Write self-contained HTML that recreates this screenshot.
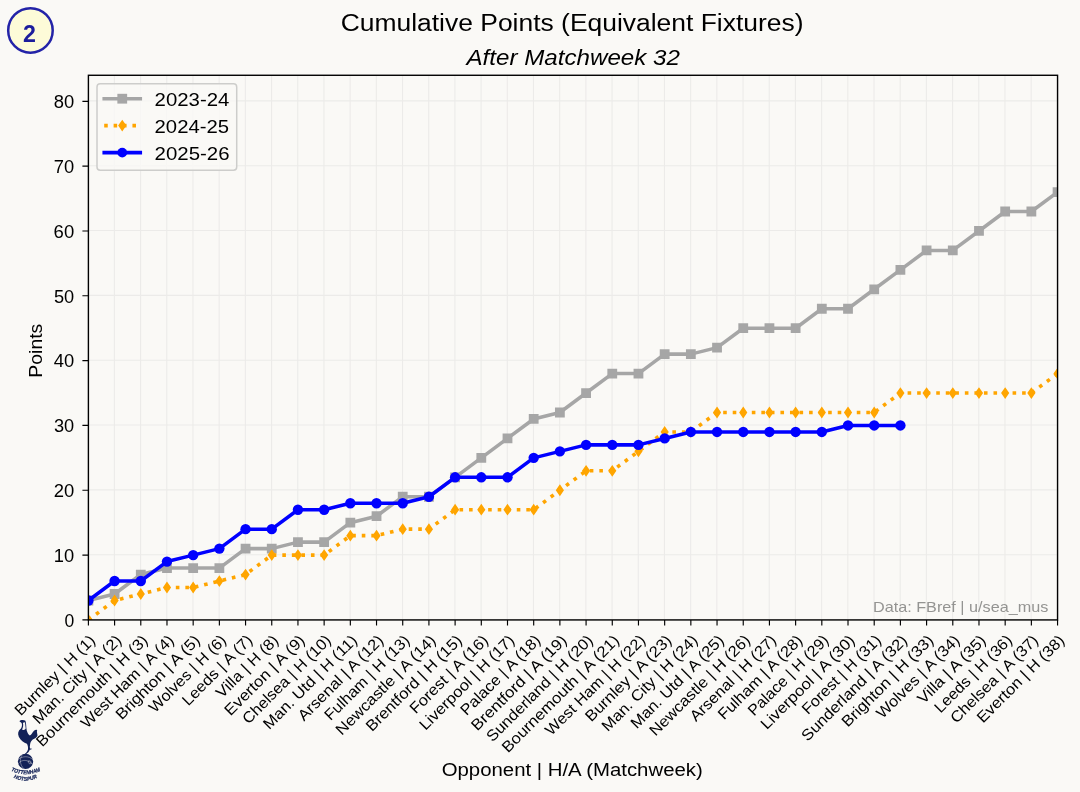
<!DOCTYPE html>
<html lang="en"><head><meta charset="utf-8"><title>Cumulative Points (Equivalent Fixtures)</title>
<style>html,body{margin:0;padding:0;background:#faf9f6;}body{width:1080px;height:792px;overflow:hidden;font-family:"Liberation Sans", sans-serif;}svg{display:block;will-change:transform;}text{font-family:"Liberation Sans", sans-serif;}</style>
</head><body>
<svg width="1080" height="792" viewBox="0 0 1080 792">
<defs><clipPath id="ax"><rect x="88.4" y="75.28" width="969.16" height="544.65"/></clipPath></defs>
<path d="M88.2 75.28V619.93M114.39 75.28V619.93M140.59 75.28V619.93M166.78 75.28V619.93M192.97 75.28V619.93M219.17 75.28V619.93M245.36 75.28V619.93M271.55 75.28V619.93M297.75 75.28V619.93M323.94 75.28V619.93M350.14 75.28V619.93M376.33 75.28V619.93M402.52 75.28V619.93M428.72 75.28V619.93M454.91 75.28V619.93M481.1 75.28V619.93M507.3 75.28V619.93M533.49 75.28V619.93M559.68 75.28V619.93M585.88 75.28V619.93M612.07 75.28V619.93M638.26 75.28V619.93M664.46 75.28V619.93M690.65 75.28V619.93M716.84 75.28V619.93M743.04 75.28V619.93M769.23 75.28V619.93M795.42 75.28V619.93M821.62 75.28V619.93M847.81 75.28V619.93M874.01 75.28V619.93M900.2 75.28V619.93M926.39 75.28V619.93M952.59 75.28V619.93M978.78 75.28V619.93M1004.97 75.28V619.93M1031.17 75.28V619.93M1057.36 75.28V619.93M88.4 619.53H1057.56M88.4 554.7H1057.56M88.4 489.87H1057.56M88.4 425.04H1057.56M88.4 360.21H1057.56M88.4 295.38H1057.56M88.4 230.56H1057.56M88.4 165.73H1057.56M88.4 100.9H1057.56" stroke="#ecebe9" stroke-width="1.1" fill="none" clip-path="url(#ax)"/>
<g clip-path="url(#ax)">
<polyline points="88.4,600.48 114.59,594 140.79,574.55 166.98,568.07 193.17,568.07 219.37,568.07 245.56,548.62 271.75,548.62 297.95,542.14 324.14,542.14 350.34,522.69 376.53,516.2 402.72,496.75 428.92,496.75 455.11,477.31 481.3,457.86 507.5,438.41 533.69,418.96 559.88,412.48 586.08,393.03 612.27,373.58 638.46,373.58 664.66,354.13 690.85,354.13 717.04,347.65 743.24,328.2 769.43,328.2 795.62,328.2 821.82,308.75 848.01,308.75 874.21,289.3 900.4,269.85 926.59,250.4 952.79,250.4 978.98,230.96 1005.17,211.51 1031.37,211.51 1057.56,192.06" fill="none" stroke="#a6a6a6" stroke-width="3.55" stroke-linejoin="round"/>
<path d="M83.5 595.58h9.8v9.8h-9.8zM109.69 589.1h9.8v9.8h-9.8zM135.89 569.65h9.8v9.8h-9.8zM162.08 563.17h9.8v9.8h-9.8zM188.27 563.17h9.8v9.8h-9.8zM214.47 563.17h9.8v9.8h-9.8zM240.66 543.72h9.8v9.8h-9.8zM266.85 543.72h9.8v9.8h-9.8zM293.05 537.24h9.8v9.8h-9.8zM319.24 537.24h9.8v9.8h-9.8zM345.44 517.79h9.8v9.8h-9.8zM371.63 511.3h9.8v9.8h-9.8zM397.82 491.85h9.8v9.8h-9.8zM424.02 491.85h9.8v9.8h-9.8zM450.21 472.41h9.8v9.8h-9.8zM476.4 452.96h9.8v9.8h-9.8zM502.6 433.51h9.8v9.8h-9.8zM528.79 414.06h9.8v9.8h-9.8zM554.98 407.58h9.8v9.8h-9.8zM581.18 388.13h9.8v9.8h-9.8zM607.37 368.68h9.8v9.8h-9.8zM633.56 368.68h9.8v9.8h-9.8zM659.76 349.23h9.8v9.8h-9.8zM685.95 349.23h9.8v9.8h-9.8zM712.14 342.75h9.8v9.8h-9.8zM738.34 323.3h9.8v9.8h-9.8zM764.53 323.3h9.8v9.8h-9.8zM790.72 323.3h9.8v9.8h-9.8zM816.92 303.85h9.8v9.8h-9.8zM843.11 303.85h9.8v9.8h-9.8zM869.31 284.4h9.8v9.8h-9.8zM895.5 264.95h9.8v9.8h-9.8zM921.69 245.5h9.8v9.8h-9.8zM947.89 245.5h9.8v9.8h-9.8zM974.08 226.06h9.8v9.8h-9.8zM1000.27 206.61h9.8v9.8h-9.8zM1026.47 206.61h9.8v9.8h-9.8zM1052.66 187.16h9.8v9.8h-9.8z" fill="#a6a6a6"/>
<polyline points="88.4,619.93 114.59,600.48 140.79,594 166.98,587.52 193.17,587.52 219.37,581.03 245.56,574.55 271.75,555.1 297.95,555.1 324.14,555.1 350.34,535.65 376.53,535.65 402.72,529.17 428.92,529.17 455.11,509.72 481.3,509.72 507.5,509.72 533.69,509.72 559.88,490.27 586.08,470.82 612.27,470.82 638.46,451.37 664.66,431.93 690.85,431.93 717.04,412.48 743.24,412.48 769.43,412.48 795.62,412.48 821.82,412.48 848.01,412.48 874.21,412.48 900.4,393.03 926.59,393.03 952.79,393.03 978.98,393.03 1005.17,393.03 1031.37,393.03 1057.56,373.58" fill="none" stroke="#ffa500" stroke-width="3.6" stroke-dasharray="3.6010 5.9416" stroke-linejoin="round"/>
<path d="M88.4 614.03l4.1 5.9l-4.1 5.9l-4.1 -5.9zM114.59 594.58l4.1 5.9l-4.1 5.9l-4.1 -5.9zM140.79 588.1l4.1 5.9l-4.1 5.9l-4.1 -5.9zM166.98 581.62l4.1 5.9l-4.1 5.9l-4.1 -5.9zM193.17 581.62l4.1 5.9l-4.1 5.9l-4.1 -5.9zM219.37 575.13l4.1 5.9l-4.1 5.9l-4.1 -5.9zM245.56 568.65l4.1 5.9l-4.1 5.9l-4.1 -5.9zM271.75 549.2l4.1 5.9l-4.1 5.9l-4.1 -5.9zM297.95 549.2l4.1 5.9l-4.1 5.9l-4.1 -5.9zM324.14 549.2l4.1 5.9l-4.1 5.9l-4.1 -5.9zM350.34 529.75l4.1 5.9l-4.1 5.9l-4.1 -5.9zM376.53 529.75l4.1 5.9l-4.1 5.9l-4.1 -5.9zM402.72 523.27l4.1 5.9l-4.1 5.9l-4.1 -5.9zM428.92 523.27l4.1 5.9l-4.1 5.9l-4.1 -5.9zM455.11 503.82l4.1 5.9l-4.1 5.9l-4.1 -5.9zM481.3 503.82l4.1 5.9l-4.1 5.9l-4.1 -5.9zM507.5 503.82l4.1 5.9l-4.1 5.9l-4.1 -5.9zM533.69 503.82l4.1 5.9l-4.1 5.9l-4.1 -5.9zM559.88 484.37l4.1 5.9l-4.1 5.9l-4.1 -5.9zM586.08 464.92l4.1 5.9l-4.1 5.9l-4.1 -5.9zM612.27 464.92l4.1 5.9l-4.1 5.9l-4.1 -5.9zM638.46 445.47l4.1 5.9l-4.1 5.9l-4.1 -5.9zM664.66 426.03l4.1 5.9l-4.1 5.9l-4.1 -5.9zM690.85 426.03l4.1 5.9l-4.1 5.9l-4.1 -5.9zM717.04 406.58l4.1 5.9l-4.1 5.9l-4.1 -5.9zM743.24 406.58l4.1 5.9l-4.1 5.9l-4.1 -5.9zM769.43 406.58l4.1 5.9l-4.1 5.9l-4.1 -5.9zM795.62 406.58l4.1 5.9l-4.1 5.9l-4.1 -5.9zM821.82 406.58l4.1 5.9l-4.1 5.9l-4.1 -5.9zM848.01 406.58l4.1 5.9l-4.1 5.9l-4.1 -5.9zM874.21 406.58l4.1 5.9l-4.1 5.9l-4.1 -5.9zM900.4 387.13l4.1 5.9l-4.1 5.9l-4.1 -5.9zM926.59 387.13l4.1 5.9l-4.1 5.9l-4.1 -5.9zM952.79 387.13l4.1 5.9l-4.1 5.9l-4.1 -5.9zM978.98 387.13l4.1 5.9l-4.1 5.9l-4.1 -5.9zM1005.17 387.13l4.1 5.9l-4.1 5.9l-4.1 -5.9zM1031.37 387.13l4.1 5.9l-4.1 5.9l-4.1 -5.9zM1057.56 367.68l4.1 5.9l-4.1 5.9l-4.1 -5.9z" fill="#ffa500"/>
<polyline points="88.4,600.48 114.59,581.03 140.79,581.03 166.98,561.58 193.17,555.1 219.37,548.62 245.56,529.17 271.75,529.17 297.95,509.72 324.14,509.72 350.34,503.24 376.53,503.24 402.72,503.24 428.92,496.75 455.11,477.31 481.3,477.31 507.5,477.31 533.69,457.86 559.88,451.37 586.08,444.89 612.27,444.89 638.46,444.89 664.66,438.41 690.85,431.93 717.04,431.93 743.24,431.93 769.43,431.93 795.62,431.93 821.82,431.93 848.01,425.44 874.21,425.44 900.4,425.44" fill="none" stroke="#0000ff" stroke-width="3.55" stroke-linejoin="round" stroke-linecap="square"/>
<circle cx="88.4" cy="600.48" r="5.2" fill="#0000ff"/>
<circle cx="114.59" cy="581.03" r="5.2" fill="#0000ff"/>
<circle cx="140.79" cy="581.03" r="5.2" fill="#0000ff"/>
<circle cx="166.98" cy="561.58" r="5.2" fill="#0000ff"/>
<circle cx="193.17" cy="555.1" r="5.2" fill="#0000ff"/>
<circle cx="219.37" cy="548.62" r="5.2" fill="#0000ff"/>
<circle cx="245.56" cy="529.17" r="5.2" fill="#0000ff"/>
<circle cx="271.75" cy="529.17" r="5.2" fill="#0000ff"/>
<circle cx="297.95" cy="509.72" r="5.2" fill="#0000ff"/>
<circle cx="324.14" cy="509.72" r="5.2" fill="#0000ff"/>
<circle cx="350.34" cy="503.24" r="5.2" fill="#0000ff"/>
<circle cx="376.53" cy="503.24" r="5.2" fill="#0000ff"/>
<circle cx="402.72" cy="503.24" r="5.2" fill="#0000ff"/>
<circle cx="428.92" cy="496.75" r="5.2" fill="#0000ff"/>
<circle cx="455.11" cy="477.31" r="5.2" fill="#0000ff"/>
<circle cx="481.3" cy="477.31" r="5.2" fill="#0000ff"/>
<circle cx="507.5" cy="477.31" r="5.2" fill="#0000ff"/>
<circle cx="533.69" cy="457.86" r="5.2" fill="#0000ff"/>
<circle cx="559.88" cy="451.37" r="5.2" fill="#0000ff"/>
<circle cx="586.08" cy="444.89" r="5.2" fill="#0000ff"/>
<circle cx="612.27" cy="444.89" r="5.2" fill="#0000ff"/>
<circle cx="638.46" cy="444.89" r="5.2" fill="#0000ff"/>
<circle cx="664.66" cy="438.41" r="5.2" fill="#0000ff"/>
<circle cx="690.85" cy="431.93" r="5.2" fill="#0000ff"/>
<circle cx="717.04" cy="431.93" r="5.2" fill="#0000ff"/>
<circle cx="743.24" cy="431.93" r="5.2" fill="#0000ff"/>
<circle cx="769.43" cy="431.93" r="5.2" fill="#0000ff"/>
<circle cx="795.62" cy="431.93" r="5.2" fill="#0000ff"/>
<circle cx="821.82" cy="431.93" r="5.2" fill="#0000ff"/>
<circle cx="848.01" cy="425.44" r="5.2" fill="#0000ff"/>
<circle cx="874.21" cy="425.44" r="5.2" fill="#0000ff"/>
<circle cx="900.4" cy="425.44" r="5.2" fill="#0000ff"/>
</g>
<text x="872.98" y="612.2" font-size="15.39" fill="#949492" textLength="175.37" lengthAdjust="spacingAndGlyphs">Data: FBref | u/sea_mus</text>
<rect x="88.4" y="75.28" width="969.16" height="544.65" fill="none" stroke="#000" stroke-width="1.4"/>
<path d="M88.4 619.93v5.6M114.59 619.93v5.6M140.79 619.93v5.6M166.98 619.93v5.6M193.17 619.93v5.6M219.37 619.93v5.6M245.56 619.93v5.6M271.75 619.93v5.6M297.95 619.93v5.6M324.14 619.93v5.6M350.34 619.93v5.6M376.53 619.93v5.6M402.72 619.93v5.6M428.92 619.93v5.6M455.11 619.93v5.6M481.3 619.93v5.6M507.5 619.93v5.6M533.69 619.93v5.6M559.88 619.93v5.6M586.08 619.93v5.6M612.27 619.93v5.6M638.46 619.93v5.6M664.66 619.93v5.6M690.85 619.93v5.6M717.04 619.93v5.6M743.24 619.93v5.6M769.43 619.93v5.6M795.62 619.93v5.6M821.82 619.93v5.6M848.01 619.93v5.6M874.21 619.93v5.6M900.4 619.93v5.6M926.59 619.93v5.6M952.79 619.93v5.6M978.98 619.93v5.6M1005.17 619.93v5.6M1031.37 619.93v5.6M1057.56 619.93v5.6M88.4 619.93h-6M88.4 555.1h-6M88.4 490.27h-6M88.4 425.44h-6M88.4 360.61h-6M88.4 295.78h-6M88.4 230.96h-6M88.4 166.13h-6M88.4 101.3h-6" stroke="#000" stroke-width="1.15" fill="none"/>
<text x="64.41" y="626.73" font-size="17.5" textLength="9.76" lengthAdjust="spacingAndGlyphs">0</text>
<text x="53.8" y="561.9" font-size="17.5" textLength="20.37" lengthAdjust="spacingAndGlyphs">10</text>
<text x="53.69" y="497.07" font-size="17.5" textLength="20.52" lengthAdjust="spacingAndGlyphs">20</text>
<text x="53.96" y="432.24" font-size="17.5" textLength="20.23" lengthAdjust="spacingAndGlyphs">30</text>
<text x="53.78" y="367.41" font-size="17.5" textLength="20.42" lengthAdjust="spacingAndGlyphs">40</text>
<text x="53.94" y="302.58" font-size="17.5" textLength="20.25" lengthAdjust="spacingAndGlyphs">50</text>
<text x="53.61" y="237.76" font-size="17.5" textLength="20.59" lengthAdjust="spacingAndGlyphs">60</text>
<text x="53.81" y="172.93" font-size="17.5" textLength="20.38" lengthAdjust="spacingAndGlyphs">70</text>
<text x="53.72" y="108.1" font-size="17.5" textLength="20.46" lengthAdjust="spacingAndGlyphs">80</text>
<text transform="translate(88.4 633.2) rotate(-45)" x="-106.71" y="11.19" font-size="15.38" textLength="106.51" lengthAdjust="spacingAndGlyphs">Burnley | H (1)</text>
<text transform="translate(114.59 633.2) rotate(-45)" x="-118.48" y="11.19" font-size="15.38" textLength="118.32" lengthAdjust="spacingAndGlyphs">Man. City | A (2)</text>
<text transform="translate(140.79 633.2) rotate(-45)" x="-150.45" y="11.19" font-size="15.38" textLength="150.28" lengthAdjust="spacingAndGlyphs">Bournemouth | H (3)</text>
<text transform="translate(166.98 633.2) rotate(-45)" x="-124.17" y="11.19" font-size="15.38" textLength="123.97" lengthAdjust="spacingAndGlyphs">West Ham | A (4)</text>
<text transform="translate(193.17 633.2) rotate(-45)" x="-112.32" y="11.19" font-size="15.38" textLength="112.15" lengthAdjust="spacingAndGlyphs">Brighton | A (5)</text>
<text transform="translate(219.37 633.2) rotate(-45)" x="-102.19" y="11.19" font-size="15.38" textLength="101.99" lengthAdjust="spacingAndGlyphs">Wolves | H (6)</text>
<text transform="translate(245.56 633.2) rotate(-45)" x="-92.39" y="11.19" font-size="15.38" textLength="92.22" lengthAdjust="spacingAndGlyphs">Leeds | A (7)</text>
<text transform="translate(271.75 633.2) rotate(-45)" x="-81.51" y="11.19" font-size="15.38" textLength="81.28" lengthAdjust="spacingAndGlyphs">Villa | H (8)</text>
<text transform="translate(297.95 633.2) rotate(-45)" x="-106.52" y="11.19" font-size="15.38" textLength="106.37" lengthAdjust="spacingAndGlyphs">Everton | A (9)</text>
<text transform="translate(324.14 633.2) rotate(-45)" x="-118.18" y="11.19" font-size="15.38" textLength="117.96" lengthAdjust="spacingAndGlyphs">Chelsea | H (10)</text>
<text transform="translate(350.34 633.2) rotate(-45)" x="-125.91" y="11.19" font-size="15.38" textLength="125.67" lengthAdjust="spacingAndGlyphs">Man. Utd | H (11)</text>
<text transform="translate(376.53 633.2) rotate(-45)" x="-113.9" y="11.19" font-size="15.38" textLength="113.71" lengthAdjust="spacingAndGlyphs">Arsenal | A (12)</text>
<text transform="translate(402.72 633.2) rotate(-45)" x="-113.39" y="11.19" font-size="15.38" textLength="113.16" lengthAdjust="spacingAndGlyphs">Fulham | H (13)</text>
<text transform="translate(428.92 633.2) rotate(-45)" x="-134.34" y="11.19" font-size="15.38" textLength="134.17" lengthAdjust="spacingAndGlyphs">Newcastle | A (14)</text>
<text transform="translate(455.11 633.2) rotate(-45)" x="-128.88" y="11.19" font-size="15.38" textLength="128.69" lengthAdjust="spacingAndGlyphs">Brentford | H (15)</text>
<text transform="translate(481.3 633.2) rotate(-45)" x="-103.84" y="11.19" font-size="15.38" textLength="103.61" lengthAdjust="spacingAndGlyphs">Forest | A (16)</text>
<text transform="translate(507.5 633.2) rotate(-45)" x="-127.12" y="11.19" font-size="15.38" textLength="126.94" lengthAdjust="spacingAndGlyphs">Liverpool | H (17)</text>
<text transform="translate(533.69 633.2) rotate(-45)" x="-106.13" y="11.19" font-size="15.38" textLength="105.93" lengthAdjust="spacingAndGlyphs">Palace | A (18)</text>
<text transform="translate(559.88 633.2) rotate(-45)" x="-127.9" y="11.19" font-size="15.38" textLength="127.72" lengthAdjust="spacingAndGlyphs">Brentford | A (19)</text>
<text transform="translate(586.08 633.2) rotate(-45)" x="-143.55" y="11.19" font-size="15.38" textLength="143.37" lengthAdjust="spacingAndGlyphs">Sunderland | H (20)</text>
<text transform="translate(612.27 633.2) rotate(-45)" x="-158.78" y="11.19" font-size="15.38" textLength="158.63" lengthAdjust="spacingAndGlyphs">Bournemouth | A (21)</text>
<text transform="translate(638.46 633.2) rotate(-45)" x="-134.47" y="11.19" font-size="15.38" textLength="134.28" lengthAdjust="spacingAndGlyphs">West Ham | H (22)</text>
<text transform="translate(664.66 633.2) rotate(-45)" x="-115.02" y="11.19" font-size="15.38" textLength="114.87" lengthAdjust="spacingAndGlyphs">Burnley | A (23)</text>
<text transform="translate(690.85 633.2) rotate(-45)" x="-128.78" y="11.19" font-size="15.38" textLength="128.61" lengthAdjust="spacingAndGlyphs">Man. City | H (24)</text>
<text transform="translate(717.04 633.2) rotate(-45)" x="-124.87" y="11.19" font-size="15.38" textLength="124.68" lengthAdjust="spacingAndGlyphs">Man. Utd | A (25)</text>
<text transform="translate(743.24 633.2) rotate(-45)" x="-135.3" y="11.19" font-size="15.38" textLength="135.14" lengthAdjust="spacingAndGlyphs">Newcastle | H (26)</text>
<text transform="translate(769.43 633.2) rotate(-45)" x="-114.89" y="11.19" font-size="15.38" textLength="114.69" lengthAdjust="spacingAndGlyphs">Arsenal | H (27)</text>
<text transform="translate(795.62 633.2) rotate(-45)" x="-112.38" y="11.19" font-size="15.38" textLength="112.18" lengthAdjust="spacingAndGlyphs">Fulham | A (28)</text>
<text transform="translate(821.82 633.2) rotate(-45)" x="-107.09" y="11.19" font-size="15.38" textLength="106.91" lengthAdjust="spacingAndGlyphs">Palace | H (29)</text>
<text transform="translate(848.01 633.2) rotate(-45)" x="-126.12" y="11.19" font-size="15.38" textLength="125.95" lengthAdjust="spacingAndGlyphs">Liverpool | A (30)</text>
<text transform="translate(874.21 633.2) rotate(-45)" x="-104.82" y="11.19" font-size="15.38" textLength="104.57" lengthAdjust="spacingAndGlyphs">Forest | H (31)</text>
<text transform="translate(900.4 633.2) rotate(-45)" x="-142.56" y="11.19" font-size="15.38" textLength="142.4" lengthAdjust="spacingAndGlyphs">Sunderland | A (32)</text>
<text transform="translate(926.59 633.2) rotate(-45)" x="-122.62" y="11.19" font-size="15.38" textLength="122.44" lengthAdjust="spacingAndGlyphs">Brighton | H (33)</text>
<text transform="translate(952.79 633.2) rotate(-45)" x="-110.51" y="11.19" font-size="15.38" textLength="110.33" lengthAdjust="spacingAndGlyphs">Wolves | A (34)</text>
<text transform="translate(978.98 633.2) rotate(-45)" x="-89.83" y="11.19" font-size="15.38" textLength="89.64" lengthAdjust="spacingAndGlyphs">Villa | A (35)</text>
<text transform="translate(1005.17 633.2) rotate(-45)" x="-102.7" y="11.19" font-size="15.38" textLength="102.51" lengthAdjust="spacingAndGlyphs">Leeds | H (36)</text>
<text transform="translate(1031.37 633.2) rotate(-45)" x="-117.18" y="11.19" font-size="15.38" textLength="117" lengthAdjust="spacingAndGlyphs">Chelsea | A (37)</text>
<text transform="translate(1057.56 633.2) rotate(-45)" x="-116.82" y="11.19" font-size="15.38" textLength="116.64" lengthAdjust="spacingAndGlyphs">Everton | H (38)</text>
<text x="441.69" y="776.2" font-size="18.97" textLength="261.09" lengthAdjust="spacingAndGlyphs">Opponent | H/A (Matchweek)</text>
<text transform="translate(41.5 350.7) rotate(-90)" x="-26.95" y="0" font-size="18.97" textLength="53.9" lengthAdjust="spacingAndGlyphs">Points</text>
<text x="340.66" y="30.8" font-size="24.73" textLength="462.9" lengthAdjust="spacingAndGlyphs">Cumulative Points (Equivalent Fixtures)</text>
<text x="466.49" y="65" font-size="22.42" font-style="italic" textLength="213.4" lengthAdjust="spacingAndGlyphs">After Matchweek 32</text>
<rect x="97" y="83.7" width="139.7" height="86.5" rx="3.2" ry="3.2" fill="#faf9f6" fill-opacity="0.8" stroke="#cdcdcb" stroke-width="1.5"/>
<path d="M104.2 98.7H140.3" stroke="#a6a6a6" stroke-width="3.55" stroke-linecap="square"/>
<rect x="117.35" y="93.8" width="9.8" height="9.8" fill="#a6a6a6"/>
<path d="M104.2 125.6H140.3" stroke="#ffa500" stroke-width="3.55" stroke-dasharray="3.55 5.86"/>
<path d="M122.25 119.7l4.1 5.9l-4.1 5.9l-4.1 -5.9z" fill="#ffa500"/>
<path d="M104.2 152.6H140.3" stroke="#0000ff" stroke-width="3.55" stroke-linecap="square"/>
<circle cx="122.25" cy="152.6" r="4.9" fill="#0000ff"/>
<text x="154.58" y="106.1" font-size="18.97" textLength="74.75" lengthAdjust="spacingAndGlyphs">2023-24</text>
<text x="154.58" y="132.9" font-size="18.97" textLength="74.44" lengthAdjust="spacingAndGlyphs">2024-25</text>
<text x="154.58" y="159.7" font-size="18.97" textLength="74.93" lengthAdjust="spacingAndGlyphs">2025-26</text>
<circle cx="30.45" cy="30.45" r="22.25" fill="#fdfbd8" stroke="#2323a8" stroke-width="2.5"/>
<text x="29.5" y="41.8" font-size="23.2" font-weight="bold" text-anchor="middle" fill="#1c1c9c">2</text>
<g transform="translate(5 715) scale(0.08842)" fill="#132257">
<path d="M163 70C172 54 214 50 231 66C243 100 238 140 246 176C255 205 266 226 281 232C300 224 310 194 328 178C342 166 356 164 364 172C354 190 370 214 367 236C360 258 336 266 314 276C298 288 288 306 284 330C280 350 280 366 283 380L302 380L298 390L280 394C276 410 262 428 240 442L224 442C246 424 258 404 260 388C262 362 258 340 248 324C214 314 176 290 156 246C140 210 150 176 178 156C192 136 196 110 188 90Z"/>
<path d="M203 88C209 118 204 146 193 163C210 174 228 170 234 154C231 126 229 102 226 82Z" fill="#f6f4f1"/>
<circle cx="232" cy="525" r="86"/>
<path d="M152 500C200 462 272 462 316 505M150 548C190 500 262 500 312 560M196 448C160 500 170 570 215 608M262 520C285 512 300 525 296 548C280 560 262 550 262 520Z" fill="none" stroke="#f4f2ef" stroke-width="6" stroke-opacity="0.75"/>
<path id="lg1" d="M62 628Q235 712 408 628" fill="none"/>
<path id="lg2" d="M92 706Q232 782 372 706" fill="none"/>
<text font-family="&quot;Liberation Serif&quot;, serif" font-size="62" font-weight="bold" stroke="#132257" stroke-width="2.5" font-style="italic" text-anchor="middle" textLength="345" lengthAdjust="spacingAndGlyphs"><textPath href="#lg1" startOffset="50%" textLength="345" lengthAdjust="spacingAndGlyphs">TOTTENHAM</textPath></text>
<text font-family="&quot;Liberation Serif&quot;, serif" font-size="60" font-weight="bold" stroke="#132257" stroke-width="2.5" font-style="italic" text-anchor="middle" textLength="280" lengthAdjust="spacingAndGlyphs"><textPath href="#lg2" startOffset="50%" textLength="280" lengthAdjust="spacingAndGlyphs">HOTSPUR</textPath></text>
</g>
</svg>
</body></html>
